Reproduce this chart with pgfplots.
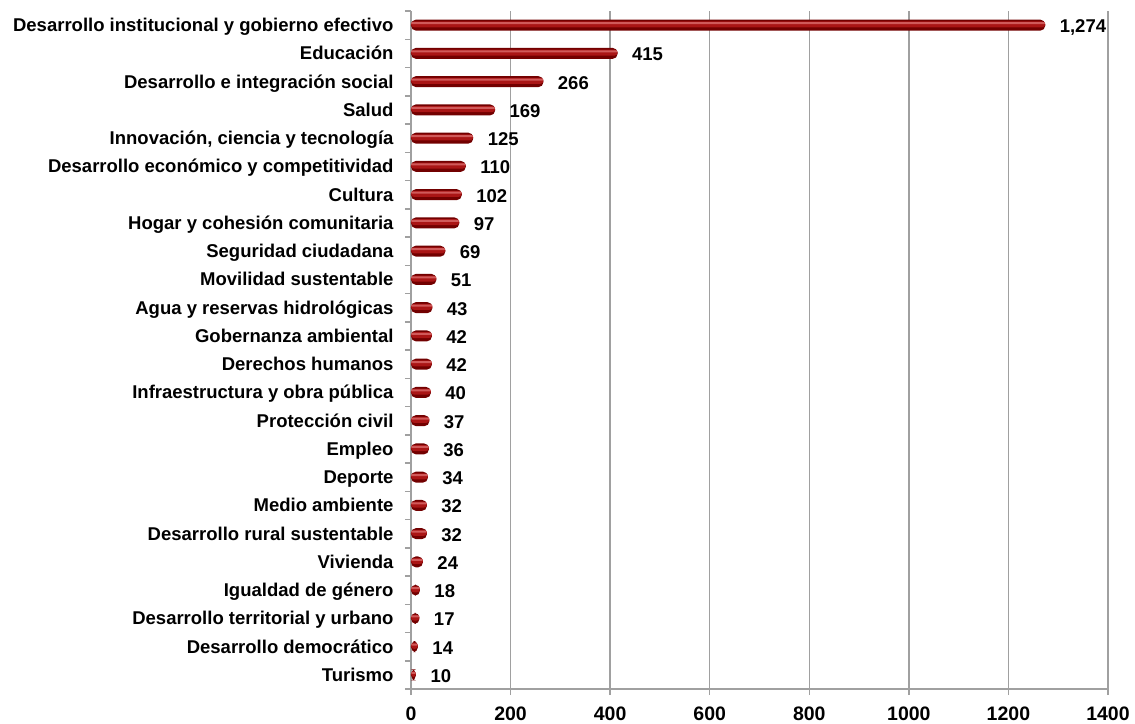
\documentclass[border=0pt]{standalone}
\usepackage{pgfplots}
\pgfplotsset{compat=1.18}
\usepackage{fontspec}
\setmainfont{Liberation Sans}
\definecolor{bardark}{HTML}{720000}
\definecolor{barmid}{HTML}{AA1515}
\definecolor{barlight}{HTML}{D05A5A}
\definecolor{gridgray}{HTML}{A0A0A0}
\begin{document}
\begin{tikzpicture}
\useasboundingbox (-411pt,-34pt) rectangle (724pt,689pt);
\pgfplotstableread{
val pos
1274 0
415 1
266 2
169 3
125 4
110 5
102 6
97 7
69 8
51 9
43 10
42 11
42 12
40 13
37 14
36 15
34 16
32 17
32 18
24 19
18 20
17 21
14 22
10 23
}\datatable
\begin{axis}[
    scale only axis,
    width=697pt, height=678pt,
    xbar,
    xmin=0, xmax=1400,
    ymin=-0.5, ymax=23.5,
    y dir=reverse,
    axis x line*=bottom, axis y line*=left,
    axis line style={gridgray, line width=1.5pt},
    xtick={0,200,...,1400},
    ytick={0,...,23},
    minor ytick={-0.5,0.5,...,23.5},
    yticklabels={
      Desarrollo institucional y gobierno efectivo,
      Educación,
      Desarrollo e integración social,
      Salud,
      {Innovación, ciencia y tecnología},
      Desarrollo económico y competitividad,
      Cultura,
      Hogar y cohesión comunitaria,
      Seguridad ciudadana,
      Movilidad sustentable,
      Agua y reservas hidrológicas,
      Gobernanza ambiental,
      Derechos humanos,
      Infraestructura y obra pública,
      Protección civil,
      Empleo,
      Deporte,
      Medio ambiente,
      Desarrollo rural sustentable,
      Vivienda,
      Igualdad de género,
      Desarrollo territorial y urbano,
      Desarrollo democrático,
      Turismo},
    xmajorgrids,
    major grid style={gridgray, line width=1.5pt},
    tick align=outside,
    tick style={gridgray, line width=1.5pt},
    major tick length=6pt, minor tick length=6pt,
    major y tick style={draw=none},
    tick label style={font=\fontsize{18.5}{20}\selectfont\bfseries},
    xticklabel style={font=\fontsize{19.5}{21}\selectfont\bfseries, anchor=base, yshift=-25pt},
    yticklabel style={anchor=base east, xshift=-8pt, yshift=-6.6pt},
    /pgf/number format/assume math mode=true,
    /pgf/number format/1000 sep={},
    clip=false,
]
% dark body of each bar
\addplot[draw=none, fill=bardark, bar width=11pt, bar shift=0pt, rounded corners=5pt,
    point meta=x,
    nodes near coords={\pgfmathprintnumber[1000 sep={,}]{\pgfplotspointmeta}},
    every node near coord/.append style={font=\fontsize{18.5}{20}\selectfont\bfseries, black,
      anchor=base west, xshift=11pt, yshift=-7.5pt}]
  table[x=val, y=pos] {\datatable};
% lighter core
\addplot[draw=none, fill=barmid, bar width=6pt, bar shift=0.8pt, rounded corners=3pt]
  table[x=val, y=pos] {\datatable};
% highlight
\addplot[draw=none, fill=barlight, bar width=1.8pt, bar shift=2pt, rounded corners=0.9pt]
  table[x=val, y=pos] {\datatable};
\end{axis}
\end{tikzpicture}
\end{document}
